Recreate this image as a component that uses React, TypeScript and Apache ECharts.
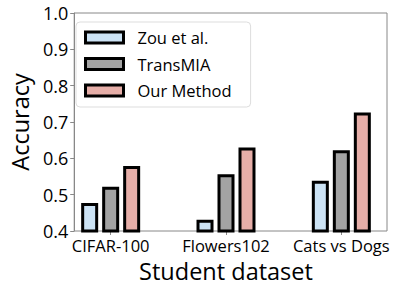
import React, { useEffect, useRef } from "react";
import * as echarts from "echarts";

const categories = ["CIFAR-100", "Flowers102", "Cats vs Dogs"];
const seriesNames = ["Zou et al.", "TransMIA", "Our Method"];
const zouValues = [0.477, 0.431, 0.538];
const transmiaValues = [0.522, 0.556, 0.622];
const ourValues = [0.579, 0.63, 0.726];
const seriesColors = ["#cce3f5", "#a3a3a3", "#e6aea8"];
const yMin = 0.4;
const yMax = 1.0;
const yStep = 0.1;

const FONT = "Open Sans";

export default function App() {
  const ref = useRef<HTMLDivElement>(null);
  useEffect(() => {
    if (!ref.current) return;
    const chart = echarts.init(ref.current, undefined, { renderer: "svg" });
    const values = [zouValues, transmiaValues, ourValues];
    chart.setOption({
      animation: false,
      textStyle: { fontFamily: FONT, color: "#000" },
      grid: [
        { left: 66, top: 13, width: 321, height: 218, show: true, borderColor: "#888", borderWidth: 1, backgroundColor: "transparent" },
        { left: 53, top: 13, width: 348, height: 218 },
      ],
      xAxis: [
        { type: "value", gridIndex: 0, show: false, min: 0, max: 1 },
        {
          type: "category",
          gridIndex: 1,
          data: categories,
          axisLine: { show: false },
          axisTick: { show: true, alignWithLabel: true, length: 4, lineStyle: { color: "#888" } },
          axisLabel: { fontSize: 16.5, color: "#000", margin: 6, interval: 0, fontFamily: FONT },
          name: "Student dataset",
          nameLocation: "middle",
          nameGap: 27,
          nameTextStyle: { fontSize: 23.5, color: "#000", fontFamily: FONT },
        },
      ],
      yAxis: [
        {
          type: "value",
          gridIndex: 0,
          min: yMin,
          max: yMax,
          interval: yStep,
          axisLine: { show: true, lineStyle: { color: "#888" } },
          axisTick: { show: true, length: 4, lineStyle: { color: "#888" } },
          splitLine: { show: false },
          axisLabel: { fontSize: 18, color: "#000", margin: 6, fontFamily: FONT, formatter: (v: number) => v.toFixed(1) },
          name: "Accuracy",
          nameLocation: "middle",
          nameGap: 40,
          nameTextStyle: { fontSize: 23.5, color: "#000", fontFamily: FONT },
        },
        { type: "value", gridIndex: 1, min: yMin, max: yMax, show: false },
      ],
      legend: {
        orient: "vertical",
        left: 76,
        top: 22,
        padding: [7, 19, 8, 8],
        itemWidth: 38,
        itemHeight: 11,
        itemGap: 9.5,
        backgroundColor: "#fff",
        borderColor: "#ddd",
        borderWidth: 1,
        borderRadius: 4,
        icon: "rect",
        itemStyle: { borderColor: "#000", borderWidth: 3 },
        textStyle: { fontSize: 16.5, color: "#000", fontFamily: FONT, padding: [0, 0, 0, 9] },
        data: seriesNames,
      },
      series: seriesNames.map((name, i) => ({
        name,
        type: "bar",
        xAxisIndex: 1,
        yAxisIndex: 1,
        data: values[i],
        barWidth: 17,
        barGap: "23.5%",
        itemStyle: { color: seriesColors[i], borderColor: "#000", borderWidth: 3 },
      })),
    });
    return () => chart.dispose();
  }, []);
  return <div ref={ref} style={{ width: 399, height: 290, position: "absolute", left: 0, top: 0 }} />;
}
